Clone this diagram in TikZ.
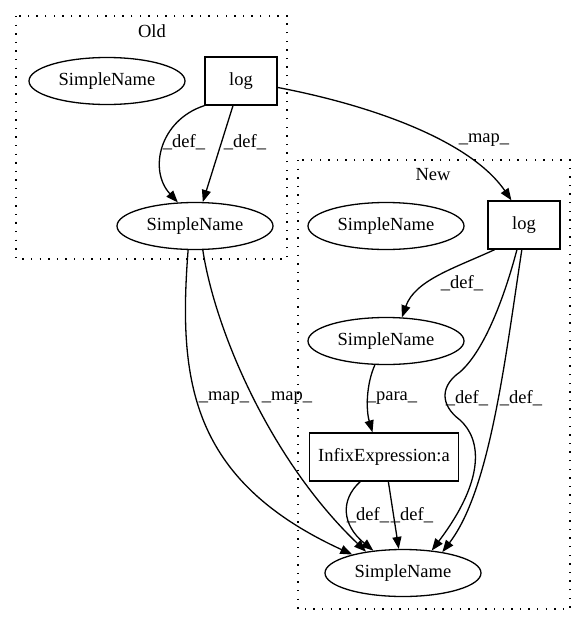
\documentclass[tikz,border=0pt]{standalone}
\usepackage{fontspec}
\setmainfont{Liberation Serif}
\usetikzlibrary{arrows.meta,shapes.geometric}
\tikzset{
    name-node/.style = {draw, ellipse, inner sep=0pt, minimum width=156pt, minimum height=47pt},
    stmt-box/.style = {draw, rectangle, inner sep=0pt, minimum width=72pt, minimum height=48pt},
    cluster-box/.style = {draw, dash pattern=on 1.4pt off 7.2pt},
    edge-line/.style = {draw, -{Triangle[length=12pt, width=9pt]}},
    edge-label/.style = {inner sep=0pt},
}

\begin{document}
\begin{tikzpicture}[x=1pt, y=-1pt, line width=1.3pt, font=\fontsize{18.5}{22}\selectfont]
\useasboundingbox (0,0) rectangle (587,624);
% clusters
\draw[cluster-box] (16,16) rectangle (287,259);
\node (old-title) at (152,31) {Old};
\draw[cluster-box] (298,160) rectangle (570,609);
\node (new-title) at (433,175) {New};
% old side
\node[name-node] (old-name) at (107,81) {SimpleName};
\node[stmt-box] (old-log) at (241,81) {log};
\node[name-node] (old-arg) at (195,226) {SimpleName};
% new side
\node[name-node] (new-name) at (386,226) {SimpleName};
\node[stmt-box] (new-log) at (524,225) {log};
\node[name-node] (new-arg) at (386,341) {SimpleName};
\node[stmt-box, minimum width=149pt] (new-infix) at (384,457) {InfixExpression:a};
\node[name-node] (new-res) at (403,573) {SimpleName};
% edges
\draw[edge-line] (old-log.south west) .. controls (160,120) and (148,170) .. (old-arg.126);
\draw[edge-line] (old-log.-108) -- (old-arg.72);
\draw[edge-line] (old-log.-10) .. controls (370,105) and (470,140) .. (new-log.117);
\draw[edge-line] (old-arg.-106) .. controls (178,380) and (190,480) .. (new-res.160);
\draw[edge-line] (old-arg.-72) .. controls (215,330) and (270,460) .. (new-res.150);
\draw[edge-line] (new-log.-140) .. controls (455,268) and (415,280) .. (new-arg.56);
\draw[edge-line] (new-log.-106) .. controls (505,295) and (485,350) .. (460,372)
    .. controls (440,386) and (440,405) .. (460,420)
    .. controls (482,440) and (485,480) .. (new-res.38);
\draw[edge-line] (new-log.-95) .. controls (505,360) and (490,490) .. (new-res.28);
\draw[edge-line] (new-arg.-115) .. controls (366,385) and (366,410) .. (new-infix.115);
\draw[edge-line] (new-infix.-134) .. controls (340,500) and (342,525) .. (new-res.143);
\draw[edge-line] (new-infix.-80) -- (new-res.100);
% labels
\node[edge-label] (lbl-def1) at (184,142) {\_def\_};
\node[edge-label] (lbl-def2) at (245,142) {\_def\_};
\node[edge-label] (lbl-map1) at (484,140) {\_map\_};
\node[edge-label] (lbl-def3) at (462,283) {\_def\_};
\node[edge-label] (lbl-map2) at (224,398) {\_map\_};
\node[edge-label] (lbl-map3) at (287,398) {\_map\_};
\node[edge-label] (lbl-para) at (392,398) {\_para\_};
\node[edge-label] (lbl-def4) at (467,398) {\_def\_};
\node[edge-label] (lbl-def5) at (521,398) {\_def\_};
\node[edge-label] (lbl-def6) at (368,515) {\_def\_};
\node[edge-label] (lbl-def7) at (412,515) {\_def\_};
\end{tikzpicture}
\end{document}
